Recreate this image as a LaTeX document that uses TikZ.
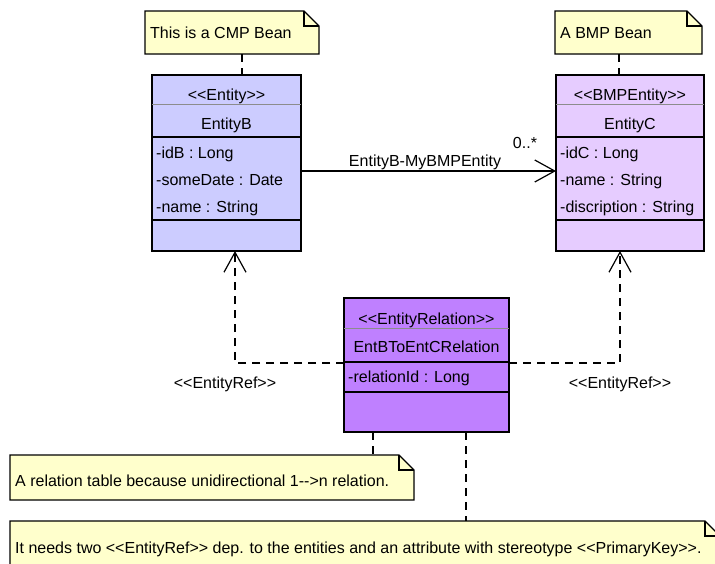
\documentclass[tikz,border=0pt]{standalone}
\usepackage{fontspec}
\newfontfamily\umlfont{Liberation Sans}
\usetikzlibrary{arrows.meta,calc}

\definecolor{notefill}{HTML}{FFFFCC}
\definecolor{entbfill}{HTML}{CCCCFF}
\definecolor{entcfill}{HTML}{E6CCFF}
\definecolor{relfill}{HTML}{BF80FF}

% note with a folded top-right corner, drawn over an invisible node
\newcommand{\foldnote}[2]{%
  \draw[noteshape] (#1.south west) -- (#1.north west) -- ([xshift=-#2]#1.north east)
    -- ([yshift=-#2]#1.north east) -- (#1.south east) -- cycle;
  \draw[line width=1.2pt] ([xshift=-#2]#1.north east) |- ([yshift=-#2]#1.north east);
}

\begin{document}
\begin{tikzpicture}[x=1pt,y=-1pt,
  font=\umlfont\fontsize{16}{19}\selectfont,
  classbox/.style={draw=black, line width=1.8pt, anchor=north west, inner sep=0pt, outer sep=0pt},
  compline/.style={line width=1.6pt},
  stereoline/.style={draw=black!45, line width=0.6pt},
  notearea/.style={anchor=north west, inner sep=0pt, outer sep=0pt},
  noteshape/.style={draw=black, line width=1.2pt, fill=notefill, line join=miter},
  txt/.style={inner sep=0pt, anchor=base},
  ltxt/.style={inner sep=0pt, anchor=base west},
  dep/.style={draw=black, line width=1.2pt, dash pattern=on 8pt off 6pt},
  openhead/.style={-{Straight Barb[length=20pt, width=22pt, line width=1.2pt]}},
]
\useasboundingbox (0,0) rectangle (715,563);
\clip (0,0) rectangle (715,563);

% helper coordinates for connector positions
\coordinate (xa) at (242,0);
\coordinate (xb) at (619,0);
\coordinate (xl) at (235,0);
\coordinate (xr) at (620,0);
\coordinate (yassoc) at (0,171);
\coordinate (yref) at (0,363);
\coordinate (xn1) at (373,0);
\coordinate (xn2) at (466,0);

% ---------- notes ----------
\node[notearea, minimum width=174pt, minimum height=43pt] (na) at (145,11) {};
\foldnote{na}{15pt}
\node[ltxt] at (150,38.5) {This is a CMP Bean};

\node[notearea, minimum width=147pt, minimum height=43pt] (nb) at (555,11) {};
\foldnote{nb}{15pt}
\node[ltxt] at (560,38.5) {A BMP Bean};

\node[notearea, minimum width=404pt, minimum height=45pt] (n1) at (10,455) {};
\foldnote{n1}{15pt}
\node[ltxt] at (15,486.5) {A relation table because unidirectional 1-->n relation.};

\node[notearea, minimum width=710pt, minimum height=60pt] (n2) at (10,521) {};
\foldnote{n2}{15pt}
\node[ltxt] at (15,553.5) {It needs two <<EntityRef>> dep. to the entities and an attribute with stereotype <<PrimaryKey>>.};

% ---------- EntityB ----------
\node[classbox, fill=entbfill, minimum width=149pt, minimum height=176pt] (eb) at (152,75) {};
\draw[stereoline] (152,104) -- (301,104);
\draw[compline] (152,137) -- (301,137);
\draw[compline] (152,220) -- (301,220);
\node[txt] at (226.5,100.5) {<<Entity>>};
\node[txt] at (226.5,129.5) {EntityB};
\node[ltxt] at (156,158.5) {-idB : Long};
\node[ltxt] at (156,185.5) {-someDate : Date};
\node[ltxt] at (156,212.5) {-name : String};

% ---------- EntityC ----------
\node[classbox, fill=entcfill, minimum width=148pt, minimum height=176pt] (ec) at (556,75) {};
\draw[stereoline] (556,104) -- (704,104);
\draw[compline] (556,137) -- (704,137);
\draw[compline] (556,220) -- (704,220);
\node[txt] at (630,100.5) {<<BMPEntity>>};
\node[txt] at (630,129.5) {EntityC};
\node[ltxt] at (560,158.5) {-idC : Long};
\node[ltxt] at (560,185.5) {-name : String};
\node[ltxt] at (560,212.5) {-discription : String};

% ---------- EntBToEntCRelation ----------
\node[classbox, fill=relfill, minimum width=165pt, minimum height=134pt] (rel) at (344,298) {};
\draw[stereoline] (344,328) -- (509,328);
\draw[compline] (344,362) -- (509,362);
\draw[compline] (344,392) -- (509,392);
\node[txt] at (426.5,324.5) {<<EntityRelation>>};
\node[txt] at (426.5,352.5) {EntBToEntCRelation};
\node[ltxt] at (348,382.5) {-relationId : Long};

% ---------- connectors ----------
\draw[dep] (na.south -| xa) -- (eb.north -| xa);
\draw[dep] (nb.south -| xb) -- (ec.north -| xb);

\draw[line width=1.2pt, openhead] (eb.east |- yassoc) -- (ec.west |- yassoc);
\node[txt] at (425,166) {EntityB-MyBMPEntity};
\node[txt] at (525,148) {0..*};

\draw[dep, openhead] (rel.west |- yref) -| (eb.south -| xl);
\draw[dep, openhead] (rel.east |- yref) -| (ec.south -| xr);
\node[txt] at (225,388.5) {<<EntityRef>>};
\node[txt] at (620,388.5) {<<EntityRef>>};

\draw[dep] (rel.south -| xn1) -- (n1.north -| xn1);
\draw[dep] (rel.south -| xn2) -- (n2.north -| xn2);
\end{tikzpicture}
\end{document}
